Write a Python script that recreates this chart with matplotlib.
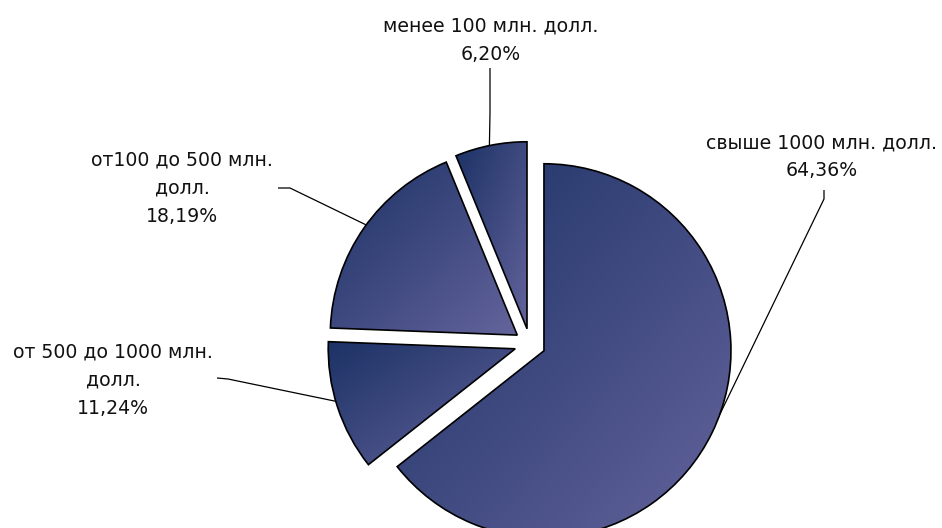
import numpy as np
import matplotlib
matplotlib.use("Agg")
import matplotlib.pyplot as plt
from matplotlib.colors import LinearSegmentedColormap

# Distribution of companies by size (share, %)
categories = [
    "свыше 1000 млн. долл.",
    "от 500 до 1000 млн.\nдолл.",
    "от100 до 500 млн.\nдолл.",
    "менее 100 млн. долл.",
]
shares = [64.36, 11.24, 18.19, 6.20]
share_labels = ["64,36%", "11,24%", "18,19%", "6,20%"]

W, H = 942, 528
fig = plt.figure(figsize=(W / 100, H / 100), dpi=100)
ax = fig.add_axes([0, 0, 1, 1])

R = 187
cx, cy = 530, H - 344
# pie() offsets wedges by explode in data units, so scale the fraction by R
explode = [0.083 * R] * len(shares)

wedges, _ = ax.pie(
    shares, radius=R, center=(cx, cy), startangle=90, counterclock=False,
    explode=explode, frame=True,
    wedgeprops=dict(facecolor="none", edgecolor="black", linewidth=1.2, zorder=3),
)
ax.set_xlim(0, W)
ax.set_ylim(0, H)
ax.set_aspect("equal")
ax.axis("off")

cmap = LinearSegmentedColormap.from_list("navy", ["#1c3266", "#3f4a80", "#64649c"])
n = 200
gx, gy = np.meshgrid(np.linspace(0, 1, n), np.linspace(0, 1, n))
# origin='lower': top-left darkest, bottom-right lightest
grad = (gx + (1 - gy)) / 2.0

for w in wedges:
    ext = w.get_path().get_extents()
    im = ax.imshow(grad, cmap=cmap, origin="lower", interpolation="bilinear",
                   extent=(ext.x0, ext.x1, ext.y0, ext.y1), zorder=2, aspect="auto")
    im.set_clip_path(w)


def arc_point(w, ang):
    a = np.deg2rad(ang)
    return (w.center[0] + w.r * np.cos(a), w.center[1] + w.r * np.sin(a))


# label centres (x, y from top) and leader polylines (from top)
label_pos = [(822, 157), (113, 380), (182, 188), (491, 40)]
leader_start = [
    [(824, 190), (824, 199)],
    [(217, 378), (228, 379)],
    [(278, 188), (290, 188)],
    [(490, 68), (490, 113)],
]
leader_angle = [-19.9, 196.3, 143.9, 101.6]

for i, w in enumerate(wedges):
    x, y = label_pos[i]
    ax.text(x, H - y, categories[i] + "\n" + share_labels[i], ha="center", va="center",
            multialignment="center", fontsize=13.6, family="DejaVu Sans",
            color="#111111", linespacing=1.6, zorder=5)
    pts = [(px, H - py) for px, py in leader_start[i]]
    pts.append(arc_point(w, leader_angle[i]))
    xs, ys = zip(*pts)
    ax.plot(xs, ys, color="black", linewidth=0.9, zorder=4, solid_capstyle="butt")

fig.savefig("out.png", dpi=100, facecolor="white")
